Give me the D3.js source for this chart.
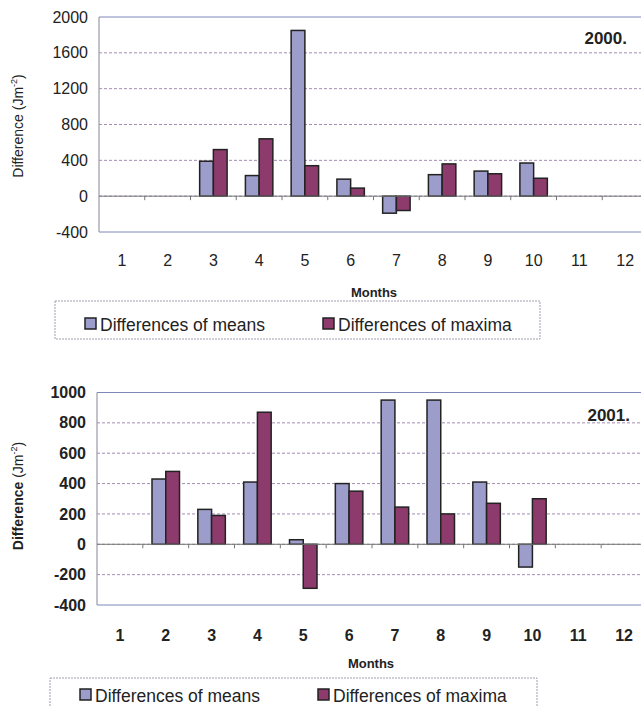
<!DOCTYPE html>
<html><head><meta charset="utf-8">
<script src="https://cdn.jsdelivr.net/npm/d3@7"></script>
<style>
body{margin:0;background:#fff;}
svg{display:block;font-family:Arial,"Liberation Sans",sans-serif;}
</style></head>
<body>
<svg id="c" width="641" height="707"></svg>
<script>
const months = ["1","2","3","4","5","6","7","8","9","10","11","12"];
const seriesNames = ["Differences of means","Differences of maxima"];
// 2000
const means2000  = [null,null,390,230,1850,190,-190,240,280,370,null,null];
const maxima2000 = [null,null,520,640,340,90,-160,360,250,200,null,null];
const ticks2000  = [-400,0,400,800,1200,1600,2000];
// 2001
const means2001  = [null,430,230,410,30,400,950,950,410,-150,null,null];
const maxima2001 = [null,480,190,870,-290,350,245,200,270,300,null,null];
const ticks2001  = [-400,-200,0,200,400,600,800,1000];

const colors = ["#9d9dcb","#8d3b6d"];
const svg = d3.select("#c");
const FF = "Arial,'Liberation Sans',sans-serif";

function chart(cfg){
  const g = svg.append("g");
  const x = d3.scaleBand().domain(months).range([cfg.left, cfg.right]);
  const y = d3.scaleLinear().domain([cfg.ticks[0], cfg.ticks[cfg.ticks.length-1]]).range([cfg.bottom, cfg.top]);
  const gw = x.bandwidth()*0.6;
  const x1 = d3.scaleBand().domain([0,1]).range([0,gw]);
  const fw = cfg.bold ? "bold" : "normal";
  const isEdge = d => d===cfg.ticks[0] || d===cfg.ticks[cfg.ticks.length-1];

  // grid
  g.append("g").selectAll("line").data(cfg.ticks).join("line")
    .attr("x1", cfg.left).attr("x2", cfg.right)
    .attr("y1", d=>y(d)).attr("y2", d=>y(d))
    .attr("stroke", d=> isEdge(d) ? "#7f86b8" : "#a48cb4")
    .attr("stroke-width", 1)
    .attr("stroke-dasharray", d=> isEdge(d) ? null : "3,2");
  // left frame
  g.append("line").attr("x1",cfg.left).attr("x2",cfg.left).attr("y1",y.range()[1]).attr("y2",y.range()[0])
    .attr("stroke","#999aa8").attr("stroke-width",1.2);

  // y axis labels
  const ya = d3.axisLeft(y).tickValues(cfg.ticks).tickSize(0).tickPadding(11).tickFormat(d=>String(d));
  const yg = g.append("g").attr("transform",`translate(${cfg.left},0)`).call(ya);
  yg.select(".domain").remove();
  yg.selectAll("text").attr("font-size",16).attr("font-weight",fw).attr("fill","#222").attr("font-family",FF);

  // bars
  const data = [];
  months.forEach((m,i)=>{
    [cfg.means[i], cfg.maxima[i]].forEach((v,k)=>{ if(v!==null) data.push({m,k,v}); });
  });
  g.append("g").selectAll("rect").data(data).join("rect")
    .attr("x", d=> x(d.m) + (x.bandwidth()-gw)/2 + x1(d.k))
    .attr("width", x1.bandwidth())
    .attr("y", d=> y(Math.max(0,d.v)))
    .attr("height", d=> Math.abs(y(d.v)-y(0)))
    .attr("fill", d=>colors[d.k])
    .attr("stroke","#222").attr("stroke-width",1.5);

  // zero line with band ticks
  g.append("line").attr("x1",cfg.left).attr("x2",cfg.right).attr("y1",y(0)).attr("y2",y(0))
    .attr("stroke","#777").attr("stroke-width",1);
  g.append("g").selectAll("line").data(months.slice(1)).join("line")
    .attr("x1", d=>x(d)).attr("x2", d=>x(d)).attr("y1", y(0)).attr("y2", y(0)+4)
    .attr("stroke","#777");

  // x axis labels
  const xa = d3.axisBottom(x).tickSize(0).tickPadding(0);
  const xg = g.append("g").attr("transform",`translate(0,${cfg.monthY})`).call(xa);
  xg.select(".domain").remove();
  xg.selectAll("text").attr("font-size",16).attr("font-weight",fw).attr("fill","#222").attr("dy","0").attr("y",0)
    .attr("font-family",FF);

  // axis titles
  const yt = g.append("text").attr("transform",`translate(${cfg.ytX},${cfg.ytY}) rotate(-90)`)
    .attr("text-anchor","middle").attr("font-size",14).attr("fill","#222");
  yt.append("tspan").text("Difference ").attr("font-weight", fw);
  yt.append("tspan").text("(Jm");
  yt.append("tspan").text("-2").attr("font-size",9).attr("dy",-6);
  yt.append("tspan").text(")").attr("dy",6);

  g.append("text").attr("x",cfg.monthsX).attr("y",cfg.monthsY).attr("text-anchor","middle")
    .attr("font-size",13).attr("font-weight","bold").attr("fill","#222").text("Months");

  g.append("text").attr("x",cfg.yearX).attr("y",cfg.yearY).attr("text-anchor","end")
    .attr("font-size",17).attr("font-weight","bold").attr("fill","#222").text(cfg.year);

  // legend
  g.append("rect").attr("x",cfg.lg.x).attr("y",cfg.lg.y).attr("width",cfg.lg.w).attr("height",cfg.lg.h)
    .attr("fill","none").attr("stroke","#a59cb0").attr("stroke-dasharray","2,1");
  const items = g.append("g").selectAll("g").data(seriesNames).join("g")
    .attr("transform",(d,i)=>`translate(${cfg.lg.items[i]},${cfg.lg.ty})`);
  items.append("rect").attr("x",0).attr("y",-13).attr("width",11).attr("height",11)
    .attr("fill",(d,i)=>colors[i]).attr("stroke","#222").attr("stroke-width",1.5);
  items.append("text").attr("x",15).attr("y",0).attr("font-size",17.5).attr("fill","#222").text(d=>d);
}

chart({left:99,right:648,top:17,bottom:232,ticks:ticks2000,means:means2000,maxima:maxima2000,bold:false,
  monthY:266,ytX:23,ytY:126,monthsX:374,monthsY:297,yearX:627,yearY:44,year:"2000.",
  lg:{x:55,y:301,w:485,h:38,items:[85,323],ty:331}});
chart({left:97,right:647,top:392.5,bottom:605,ticks:ticks2001,means:means2001,maxima:maxima2001,bold:true,
  monthY:641,ytX:23,ytY:496,monthsX:371,monthsY:668,yearX:630,yearY:421,year:"2001.",
  lg:{x:50,y:678,w:487,h:40,items:[80,318],ty:702}});
</script>
</body></html>
